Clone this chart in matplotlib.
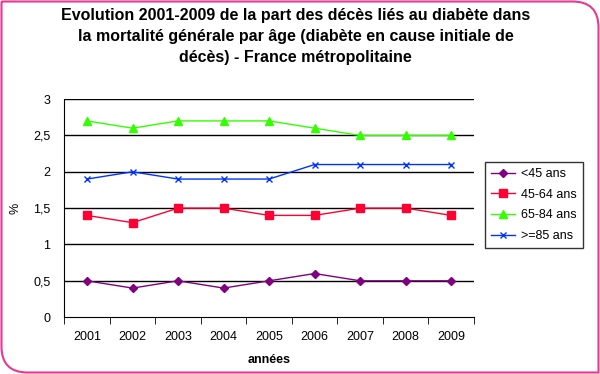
import matplotlib
matplotlib.use('Agg')
import matplotlib.pyplot as plt
from matplotlib.patches import PathPatch
from matplotlib.path import Path
from matplotlib.ticker import FuncFormatter

plt.rcParams['font.family'] = ['Liberation Sans', 'DejaVu Sans']

years = ['2001', '2002', '2003', '2004', '2005', '2006', '2007', '2008', '2009']
moins45 = [0.5, 0.4, 0.5, 0.4, 0.5, 0.6, 0.5, 0.5, 0.5]
a45_64 = [1.4, 1.3, 1.5, 1.5, 1.4, 1.4, 1.5, 1.5, 1.4]
a65_84 = [2.7, 2.6, 2.7, 2.7, 2.7, 2.6, 2.5, 2.5, 2.5]
plus85 = [1.9, 2.0, 1.9, 1.9, 1.9, 2.1, 2.1, 2.1, 2.1]

fig = plt.figure(figsize=(6, 3.74), dpi=100)
ax = fig.add_axes([0.107, 0.152, 0.683, 0.583])

x = list(range(1, len(years) + 1))
ax.plot(x, moins45, color='#800080', marker='D', ms=4.5, lw=1, label='<45 ans')
ax.plot(x, a45_64, color='#FF0033', marker='s', ms=5.5, lw=1, label='45-64 ans')
ax.plot(x, a65_84, color='#33FF00', marker='^', ms=6, lw=1, label='65-84 ans')
ax.plot(x, plus85, color='#0033FF', marker='x', ms=4.5, mew=1, lw=1, label='>=85 ans')

ax.set_xlim(0.5, len(years) + 0.5)
ax.set_ylim(0, 3)
ax.set_yticks([0, 0.5, 1, 1.5, 2, 2.5, 3])
ax.yaxis.set_major_formatter(FuncFormatter(lambda v, p: ('%g' % v).replace('.', ',')))
for v in [0.5, 1, 1.5, 2, 2.5, 3]:
    ax.axhline(v, color='black', lw=1, zorder=0)
ax.set_xticks(x)
ax.set_xticklabels(years)
ax.set_xticks([i + 0.5 for i in range(0, len(years) + 1)], minor=True)
ax.tick_params(axis='x', which='major', length=0, pad=10, labelsize=9)
ax.tick_params(axis='x', which='minor', length=5, direction='out', color='black')
ax.tick_params(axis='y', length=0, pad=10, labelsize=9)
ax.spines['top'].set_visible(False)
ax.spines['right'].set_visible(False)

ax.set_xlabel('années', fontsize=9, fontweight='bold', labelpad=8)
ax.set_ylabel('%', fontsize=9, labelpad=8)

fig.text(0.493, 0.978, 'Evolution 2001-2009 de la part des décès liés au diabète dans\n'
         'la mortalité générale par âge (diabète en cause initiale de\n'
         'décès) - France métropolitaine',
         ha='center', va='top', fontsize=11.5, fontweight='bold', linespacing=1.5)

leg = ax.legend(loc='center left', bbox_to_anchor=(1.012, 0.514), fontsize=9,
                frameon=True, fancybox=False, edgecolor='black',
                handlelength=1.9, handletextpad=0.45, borderpad=0.5, labelspacing=0.7)
leg.get_frame().set_linewidth(1)

# pink border, rounded only at top-right and bottom-left
W, H = 600.0, 374.0
r = 26.0
x0, y0, x1, y1 = 1.5 / W, 1.5 / H, 1 - 1.5 / W, 1 - 1.5 / H
rx, ry = r / W, r / H
verts = [(x0, y1), (x1 - rx, y1), (x1, y1), (x1, y1 - ry),
         (x1, y0), (x0 + rx, y0), (x0, y0), (x0, y0 + ry), (x0, y1)]
codes = [Path.MOVETO, Path.LINETO, Path.CURVE3, Path.CURVE3,
         Path.LINETO, Path.LINETO, Path.CURVE3, Path.CURVE3, Path.LINETO]
fig.patches.append(PathPatch(Path(verts, codes), transform=fig.transFigure,
                             fill=False, edgecolor='#E8398F', lw=1.5))

fig.savefig('out.png', dpi=100)
